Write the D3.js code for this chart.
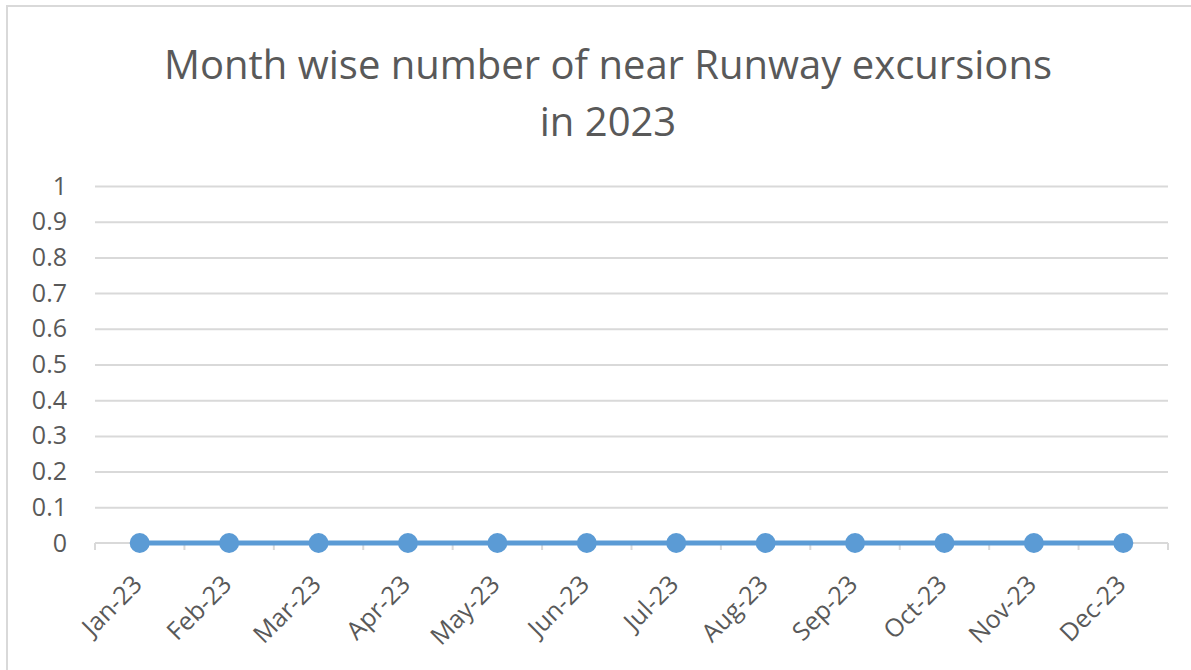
<!DOCTYPE html>
<html>
<head>
<meta charset="utf-8">
<script src="https://cdn.jsdelivr.net/npm/d3@7"></script>
<style>
  html, body { margin: 0; padding: 0; background: #fff; }
  svg { display: block; }
</style>
</head>
<body>
<svg id="chart" width="1191" height="670"></svg>
<script>
// Monthly counts of near runway excursions, 2023
const months = ["Jan-23", "Feb-23", "Mar-23", "Apr-23", "May-23", "Jun-23",
                "Jul-23", "Aug-23", "Sep-23", "Oct-23", "Nov-23", "Dec-23"];
const excursions = [0, 0, 0, 0, 0, 0, 0, 0, 0, 0, 0, 0];
const yTicks = [0, 0.1, 0.2, 0.3, 0.4, 0.5, 0.6, 0.7, 0.8, 0.9, 1];
const titleLines = ["Month wise number of near Runway excursions", "in 2023"];

const svg = d3.select("#chart");
const font = "'Open Sans', 'Noto Sans', sans-serif";
const textColor = "#595959";
const gridColor = "#d9d9d9";
const lineColor = "#5b9bd5";

const plot = { left: 95, right: 1168, top: 186, bottom: 543 };

// chart frame (extends past the right and bottom edges)
svg.append("rect")
  .attr("x", 7).attr("y", 6)
  .attr("width", 1200).attr("height", 700)
  .attr("fill", "none")
  .attr("stroke", gridColor)
  .attr("stroke-width", 2);

// title
svg.append("g").selectAll("text")
  .data(titleLines)
  .join("text")
  .attr("x", 608)
  .attr("y", (d, i) => 79 + i * 57)
  .attr("text-anchor", "middle")
  .attr("font-family", font)
  .attr("font-size", 40)
  .attr("fill", textColor)
  .text(d => d);

const x = d3.scaleBand().domain(months).range([plot.left, plot.right]);
const y = d3.scaleLinear().domain([0, 1]).range([plot.bottom, plot.top]);

// horizontal gridlines + y labels
const yAxis = svg.append("g")
  .attr("transform", `translate(${plot.left},0)`)
  .call(d3.axisLeft(y).tickValues(yTicks).tickFormat(d3.format("~g"))
    .tickSize(-(plot.right - plot.left)).tickPadding(28));
yAxis.select(".domain").remove();
yAxis.selectAll(".tick line")
  .attr("stroke", gridColor).attr("stroke-width", 2)
  .filter(d => d === 0).remove();
yAxis.selectAll(".tick text")
  .attr("font-family", font).attr("font-size", 25).attr("fill", textColor);

// category axis with boundary tick marks
const xg = svg.append("g").attr("transform", `translate(0,${plot.bottom})`);
xg.append("line")
  .attr("x1", plot.left).attr("x2", plot.right)
  .attr("stroke", gridColor).attr("stroke-width", 2);
const bounds = months.map(m => x(m)).concat([plot.right]);
xg.selectAll("line.tk")
  .data(bounds)
  .join("line")
  .attr("class", "tk")
  .attr("x1", d => d).attr("x2", d => d)
  .attr("y1", 0).attr("y2", 7)
  .attr("stroke", gridColor).attr("stroke-width", 2);
xg.selectAll("text")
  .data(months)
  .join("text")
  .attr("transform", d => `translate(${x(d) + x.bandwidth() / 2 + 4},${43}) rotate(-45)`)
  .attr("text-anchor", "end")
  .attr("font-family", font)
  .attr("font-size", 25)
  .attr("fill", textColor)
  .text(d => d);

// series line and markers
const cx = d => x(d) + x.bandwidth() / 2;
const data = months.map((m, i) => ({ m, v: excursions[i] }));
svg.append("path")
  .datum(data)
  .attr("fill", "none")
  .attr("stroke", lineColor)
  .attr("stroke-width", 5)
  .attr("stroke-linejoin", "round")
  .attr("d", d3.line().x(d => cx(d.m)).y(d => y(d.v)));
svg.append("g").selectAll("circle")
  .data(data)
  .join("circle")
  .attr("cx", d => cx(d.m))
  .attr("cy", d => y(d.v))
  .attr("r", 10)
  .attr("fill", lineColor);
</script>
</body>
</html>
